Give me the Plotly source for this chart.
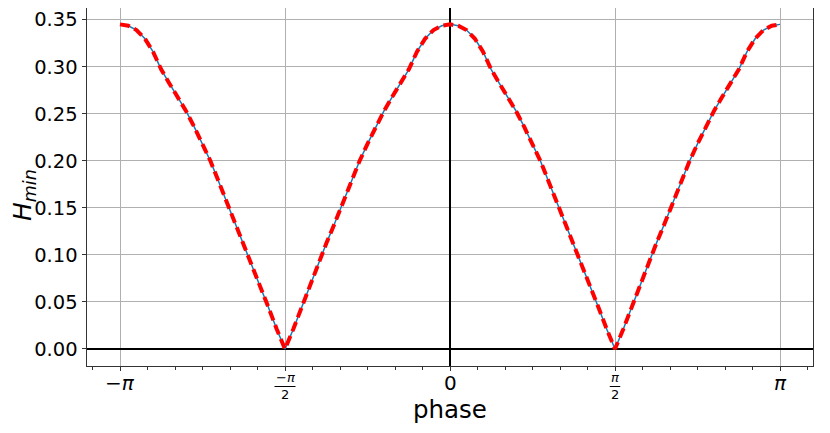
import numpy as np
import plotly.graph_objects as go

PI = np.pi

# phase samples (step pi/40) and H_min values
phase = np.linspace(-PI, PI, 81)
h_min = [
    0.345, 0.3435, 0.339, 0.330, 0.316, 0.297, 0.282, 0.268, 0.253, 0.236,
    0.218, 0.199, 0.177, 0.155, 0.133, 0.112, 0.089, 0.066, 0.044, 0.021,
    0.000,
    0.021, 0.044, 0.066, 0.089, 0.112, 0.133, 0.155, 0.177, 0.199, 0.218,
    0.236, 0.253, 0.268, 0.282, 0.297, 0.316, 0.330, 0.339, 0.3435, 0.345,
    0.3435, 0.339, 0.330, 0.316, 0.297, 0.282, 0.268, 0.253, 0.236, 0.218,
    0.199, 0.177, 0.155, 0.133, 0.112, 0.089, 0.066, 0.044, 0.021, 0.000,
    0.021, 0.044, 0.066, 0.089, 0.112, 0.133, 0.155, 0.177, 0.199, 0.218,
    0.236, 0.253, 0.268, 0.282, 0.297, 0.316, 0.330, 0.339, 0.3435, 0.345,
]

x_tickvals = [-PI, -PI / 2, 0, PI / 2, PI]
simple_positions = [-PI, 0, PI]
simple_labels = ["−<i>π</i>", "0", "<i>π</i>"]
frac_positions = [-PI / 2, PI / 2]
frac_numerators = ["−<i>π</i>", "<i>π</i>"]
frac_denominator = "2"
y_tickvals = [0.00, 0.05, 0.10, 0.15, 0.20, 0.25, 0.30, 0.35]
y_ticktext = ["0.00", "0.05", "0.10", "0.15", "0.20", "0.25", "0.30", "0.35"]

FONT = "DejaVu Sans"
OFF = 8  # page body margin
W, H = 830, 433
FRAME_L, FRAME_R, FRAME_T, FRAME_B = 87, 813, 8, 366
L = FRAME_L - OFF
R = W - (FRAME_R - OFF)
T = FRAME_T - OFF
B = H - (FRAME_B - OFF)
plot_h = FRAME_B - FRAME_T

fig = go.Figure()
fig.add_trace(go.Scatter(x=phase, y=h_min, mode="lines",
                         line=dict(color="#1f77b4", width=1.5), showlegend=False))
fig.add_trace(go.Scatter(x=phase, y=h_min, mode="lines",
                         line=dict(color="red", width=4, dash="10px,5px"),
                         showlegend=False))

annotations = []
shapes = []
for xv, lab in zip(simple_positions, simple_labels):
    annotations.append(dict(x=xv, y=0, xref="x", yref="paper", text=lab,
                            showarrow=False, yanchor="middle", yshift=-17,
                            font=dict(family=FONT, size=20, color="black")))
for xv, num in zip(frac_positions, frac_numerators):
    annotations.append(dict(x=xv, y=0, xref="x", yref="paper", text=num,
                            showarrow=False, yanchor="middle", yshift=-11.5,
                            font=dict(family=FONT, size=13, color="black")))
    annotations.append(dict(x=xv, y=0, xref="x", yref="paper", text=frac_denominator,
                            showarrow=False, yanchor="middle", yshift=-28.5,
                            font=dict(family=FONT, size=13, color="black")))
    half = 0.1 if xv < 0 else 0.05
    yb = -(386.5 - FRAME_B) / plot_h
    shapes.append(dict(type="line", xref="x", yref="paper", x0=xv - half, x1=xv + half,
                       y0=yb, y1=yb, line=dict(color="black", width=1)))

annotations.append(dict(x=0.5, y=0, xref="paper", yref="paper", text="phase",
                        showarrow=False, yanchor="middle", yshift=-43,
                        font=dict(family=FONT, size=24.5, color="black")))
annotations.append(dict(x=0, y=(FRAME_B - 195) / plot_h, xref="paper", yref="paper",
                        text="<i>H</i><sub><i>min</i></sub>", textangle=-90,
                        showarrow=False, xanchor="center", yanchor="middle", xshift=-63,
                        font=dict(family=FONT, size=25, color="black")))

fig.update_layout(
    width=W, height=H,
    margin=dict(l=L, r=R, t=T, b=B, autoexpand=False),
    paper_bgcolor="white", plot_bgcolor="white",
    font=dict(family=FONT, size=19.5, color="black"),
    annotations=annotations, shapes=shapes,
)
fig.update_xaxes(
    range=[-1.1 * PI, 1.1 * PI],
    tickmode="array", tickvals=x_tickvals, showticklabels=False,
    ticks="outside", ticklen=3.5, tickwidth=1, tickcolor="#333",
    showgrid=True, gridcolor="#b0b0b0", gridwidth=0.8,
    zeroline=True, zerolinecolor="black", zerolinewidth=2,
    showline=True, mirror=True, linecolor="#333", linewidth=1,
    minor=dict(tickmode="linear", tick0=0, dtick=PI / 12, ticklen=2.5,
               ticks="outside", tickcolor="#333", showgrid=False),
)
fig.update_yaxes(
    range=[-0.0181, 0.3624],
    tickmode="array", tickvals=y_tickvals, ticktext=y_ticktext,
    ticks="outside", ticklen=4.5, tickwidth=1, tickcolor="#333",
    tickfont=dict(family=FONT, size=19.5, color="black"),
    showgrid=True, gridcolor="#b0b0b0", gridwidth=0.8,
    zeroline=True, zerolinecolor="black", zerolinewidth=2,
    showline=True, mirror=True, linecolor="#333", linewidth=1,
)

fig.write_html("out.html")
